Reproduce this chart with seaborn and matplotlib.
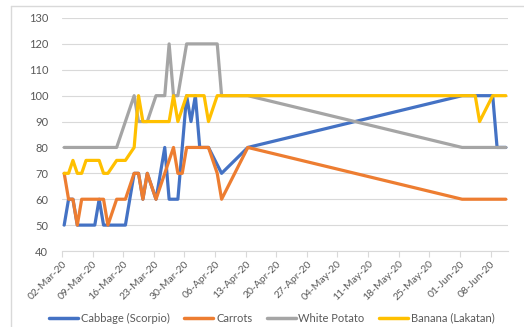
import matplotlib
matplotlib.use("Agg")
import matplotlib.pyplot as plt
import matplotlib.dates as mdates
from matplotlib.lines import Line2D
import pandas as pd
import seaborn as sns

# Retail prices (PHP/kg) per commodity, spring 2020
cabbage_dates = ["2020-03-02", "2020-03-03", "2020-03-04", "2020-03-05", "2020-03-09",
                 "2020-03-10", "2020-03-11", "2020-03-16", "2020-03-18", "2020-03-19",
                 "2020-03-20", "2020-03-21", "2020-03-23", "2020-03-25", "2020-03-26",
                 "2020-03-28", "2020-03-30", "2020-03-31", "2020-04-01", "2020-04-02",
                 "2020-04-04", "2020-04-07", "2020-04-13", "2020-06-01", "2020-06-08",
                 "2020-06-09", "2020-06-11"]
cabbage_prices = [50, 60, 60, 50, 50,
                  60, 50, 50, 70, 70,
                  60, 70, 60, 80, 60,
                  60, 100, 90, 100, 80,
                  80, 70, 80, 100, 100,
                  80, 80]

carrot_dates = ["2020-03-02", "2020-03-03", "2020-03-04", "2020-03-05", "2020-03-06",
                "2020-03-11", "2020-03-12", "2020-03-14", "2020-03-16", "2020-03-18",
                "2020-03-19", "2020-03-20", "2020-03-21", "2020-03-23", "2020-03-25",
                "2020-03-27", "2020-03-28", "2020-03-29", "2020-03-30", "2020-04-04",
                "2020-04-06", "2020-04-07", "2020-04-13", "2020-06-01", "2020-06-11"]
carrot_prices = [70, 60, 60, 50, 60,
                 60, 50, 60, 60, 70,
                 70, 60, 70, 60, 70,
                 80, 70, 70, 80, 80,
                 70, 60, 80, 60, 60]

potato_dates = ["2020-03-02", "2020-03-14", "2020-03-18", "2020-03-19", "2020-03-21",
                "2020-03-23", "2020-03-25", "2020-03-26", "2020-03-27", "2020-03-28",
                "2020-03-30", "2020-04-06", "2020-04-07", "2020-04-13", "2020-06-01",
                "2020-06-11"]
potato_prices = [80, 80, 100, 90, 90,
                 100, 100, 120, 100, 100,
                 120, 120, 100, 100, 80,
                 80]

banana_dates = ["2020-03-02", "2020-03-03", "2020-03-04", "2020-03-05", "2020-03-06",
                "2020-03-07", "2020-03-10", "2020-03-11", "2020-03-12", "2020-03-14",
                "2020-03-16", "2020-03-18", "2020-03-19", "2020-03-20", "2020-03-26",
                "2020-03-27", "2020-03-28", "2020-03-30", "2020-04-03", "2020-04-04",
                "2020-04-06", "2020-04-07", "2020-04-13", "2020-06-01", "2020-06-04",
                "2020-06-05", "2020-06-08", "2020-06-11"]
banana_prices = [70, 70, 75, 70, 70,
                 75, 75, 70, 70, 75,
                 75, 80, 100, 90, 90,
                 100, 90, 100, 100, 90,
                 100, 100, 100, 100, 100,
                 90, 100, 100]

series_names = ["Cabbage (Scorpio)", "Carrots", "White Potato", "Banana (Lakatan)"]
series_colors = ["#4472C4", "#ED7D31", "#A5A5A5", "#FFC000"]

tick_dates = ["2020-03-02", "2020-03-09", "2020-03-16", "2020-03-23", "2020-03-30",
              "2020-04-06", "2020-04-13", "2020-04-20", "2020-04-27", "2020-05-04",
              "2020-05-11", "2020-05-18", "2020-05-25", "2020-06-01", "2020-06-08"]
y_ticks = [40, 50, 60, 70, 80, 90, 100, 110, 120, 130]

# Long-form table; each day's point sits in the middle of its day slot
frames = []
for name, dates, prices in zip(series_names,
                               [cabbage_dates, carrot_dates, potato_dates, banana_dates],
                               [cabbage_prices, carrot_prices, potato_prices, banana_prices]):
    frames.append(pd.DataFrame({
        "date": pd.to_datetime(dates) + pd.Timedelta(hours=12),
        "price": prices,
        "commodity": name,
    }))
df = pd.concat(frames, ignore_index=True)

sns.set_theme(style="white")
plt.rcParams["font.family"] = ["Lato", "DejaVu Sans"]

W, H = 524, 327
fig = plt.figure(figsize=(W / 100, H / 100), dpi=100)
ax = fig.add_axes([62 / W, 1 - 251 / H, (508 - 62) / W, (251 - 18) / H])

sns.lineplot(data=df, x="date", y="price", hue="commodity", hue_order=series_names,
             palette=series_colors, linewidth=2.3, errorbar=None, legend=False, ax=ax)

grid_c = "#D9D9D9"
text_c = "#595959"

ax.set_ylim(y_ticks[0], y_ticks[-1])
ax.set_yticks(y_ticks)
ax.set_xlim(pd.Timestamp("2020-03-02"), pd.Timestamp("2020-06-12"))
ax.set_xticks(pd.to_datetime(tick_dates))
ax.xaxis.set_major_formatter(mdates.DateFormatter("%d-%b-%y"))
ax.set_xlabel("")
ax.set_ylabel("")

ax.grid(axis="y", color=grid_c, linewidth=0.8)
ax.grid(axis="x", visible=False)
ax.set_axisbelow(True)
for side in ["top", "right", "left"]:
    ax.spines[side].set_visible(False)
ax.spines["bottom"].set_color(grid_c)
ax.spines["bottom"].set_linewidth(0.8)

ax.tick_params(axis="y", length=0, labelsize=8, labelcolor=text_c, pad=10)
ax.tick_params(axis="x", length=4, width=0.8, color=grid_c, direction="out",
               labelsize=7.5, labelcolor=text_c, pad=2, bottom=True)
for lbl in ax.get_xticklabels():
    lbl.set_rotation(45)
    lbl.set_ha("right")
    lbl.set_rotation_mode("anchor")

handles = [Line2D([0], [0], color=c, linewidth=2.5) for c in series_colors]
fig.legend(handles, series_names, loc="center", bbox_to_anchor=(0.519, 1 - 318 / H),
           ncol=4, frameon=False, fontsize=8, handlelength=2.6, handletextpad=0.25,
           columnspacing=1.3, labelcolor=text_c)

# Chart-area border along the left and top edges
fig.add_artist(Line2D([10.5 / W, 10.5 / W], [0, 1 - 5.5 / H], transform=fig.transFigure,
                      color=grid_c, linewidth=1))
fig.add_artist(Line2D([10.5 / W, 1], [1 - 5.5 / H, 1 - 5.5 / H], transform=fig.transFigure,
                      color=grid_c, linewidth=1))

fig.savefig("out.png", dpi=100)
